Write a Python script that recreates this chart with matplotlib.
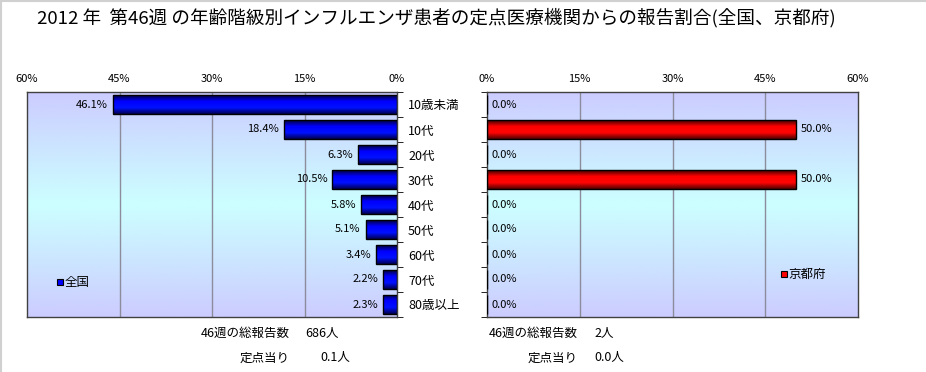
import numpy as np
import matplotlib
matplotlib.use("Agg")
import matplotlib.pyplot as plt
from matplotlib.colors import LinearSegmentedColormap
from matplotlib.lines import Line2D

plt.rcParams['font.family'] = ['Noto Sans CJK JP', 'DejaVu Sans']

title = "2012 年  第46週 の年齢階級別インフルエンザ患者の定点医療機関からの報告割合(全国、京都府)"
categories = ['10歳未満', '10代', '20代', '30代', '40代', '50代', '60代', '70代', '80歳以上']
national = [46.1, 18.4, 6.3, 10.5, 5.8, 5.1, 3.4, 2.2, 2.3]
kyoto = [0.0, 50.0, 0.0, 50.0, 0.0, 0.0, 0.0, 0.0, 0.0]
xticks = [0, 15, 30, 45, 60]
nat_total = "686人"
nat_per = "0.1人"
kyo_total = "2人"
kyo_per = "0.0人"
week_label = "46週の総報告数"
per_label = "定点当り"

W, H = 926, 372
fig = plt.figure(figsize=(W / 100, H / 100), dpi=100)
fig.patch.set_facecolor('white')

# thin light border at top and left
fig.add_artist(Line2D([0, 1], [1 - 1 / H, 1 - 1 / H], color='#d0d0d0', lw=1.5, transform=fig.transFigure))
fig.add_artist(Line2D([1 / W, 1 / W], [0, 1], color='#d0d0d0', lw=1.5, transform=fig.transFigure))

fig.text(37 / W, 1 - 18 / H, title, fontsize=13.4, ha='left', va='center')

bg_cmap = LinearSegmentedColormap.from_list('bg', ['#ccccff', '#ccffff', '#ccccff'])
blue_cmap = LinearSegmentedColormap.from_list('bb', ['#000040', '#0000ff', '#0010ff', '#000050'])
red_cmap = LinearSegmentedColormap.from_list('rb', ['#400000', '#ff0000', '#ff0505', '#500000'])

y = np.arange(len(categories))
bh = 0.76


def make_ax(rect, values, inverted, cmap, mcolor, legend_text, legend_pos):
    ax = fig.add_axes(rect)
    grad = np.linspace(0, 1, 256).reshape(-1, 1)
    ax.imshow(grad, extent=[0, 60, len(categories) - 0.5, -0.5], aspect='auto',
              cmap=bg_cmap, zorder=0, origin='upper')
    for xv in xticks[1:-1]:
        ax.axvline(xv, color='#8c8c9c', lw=1, zorder=1)
    bars = ax.barh(y, values, height=bh, color='none', edgecolor='black', lw=1, zorder=3)
    bgrad = np.linspace(0, 1, 64).reshape(-1, 1)
    for b, v in zip(bars, values):
        if v <= 0:
            continue
        x0, yy, w, h = b.get_x(), b.get_y(), b.get_width(), b.get_height()
        im = ax.imshow(bgrad, extent=[x0, x0 + w, yy + h, yy], aspect='auto', cmap=cmap,
                       zorder=2, origin='upper')
        im.set_clip_path(b)
    if inverted:
        ax.set_xlim(60, 0)
    else:
        ax.set_xlim(0, 60)
    ax.set_ylim(len(categories) - 0.5, -0.5)
    for yi, v in zip(y, values):
        if inverted:
            ax.text(v + 0.8, yi, f"{v:.1f}%", ha='right', va='center', fontsize=8, zorder=4)
        else:
            ax.text(v + 0.8, yi, f"{v:.1f}%", ha='left', va='center', fontsize=8, zorder=4)
    ax.xaxis.tick_top()
    ax.set_xticks(xticks)
    ax.set_xticklabels([f"{t}%" for t in xticks], fontsize=8)
    ax.tick_params(axis='x', length=0, pad=6)
    ax.set_yticks(y)
    ax.set_yticks(np.arange(-0.5, len(categories), 1), minor=True)
    for s in ax.spines.values():
        s.set_color('#404040')
        s.set_linewidth(1)
    ax.plot([legend_pos[0]], [legend_pos[1]], marker='s', markersize=5, markerfacecolor=mcolor,
            markeredgecolor='black', markeredgewidth=0.8, transform=ax.transAxes, zorder=5,
            clip_on=False)
    ax.text(legend_pos[0] + 0.012, legend_pos[1], legend_text, transform=ax.transAxes,
            fontsize=9, va='center', ha='left', zorder=5)
    return ax


axL = make_ax([27 / W, 55 / H, 370 / W, 225 / H], national, True, blue_cmap, '#0000ff',
              "全国", (0.09, 0.155))
axL.yaxis.tick_right()
axL.set_yticklabels(categories, fontsize=9)
axL.tick_params(axis='y', which='major', length=0, pad=8)
axL.tick_params(axis='y', which='minor', length=4, right=True, left=False)

axR = make_ax([487 / W, 55 / H, 371 / W, 225 / H], kyoto, False, red_cmap, '#ff0000',
              "京都府", (0.8, 0.19))
axR.set_yticklabels([])
axR.tick_params(axis='y', which='major', length=0)
axR.tick_params(axis='y', which='minor', length=4, left=True, right=False)

fs = 9
fig.text(290 / W, 1 - 333 / H, week_label, ha='right', va='center', fontsize=fs)
fig.text(305 / W, 1 - 333 / H, nat_total, ha='left', va='center', fontsize=fs)
fig.text(290 / W, 1 - 358 / H, per_label, ha='right', va='center', fontsize=fs)
fig.text(320 / W, 1 - 358 / H, nat_per, ha='left', va='center', fontsize=fs)
fig.text(578 / W, 1 - 333 / H, week_label, ha='right', va='center', fontsize=fs)
fig.text(594 / W, 1 - 333 / H, kyo_total, ha='left', va='center', fontsize=fs)
fig.text(578 / W, 1 - 358 / H, per_label, ha='right', va='center', fontsize=fs)
fig.text(594 / W, 1 - 358 / H, kyo_per, ha='left', va='center', fontsize=fs)

fig.savefig('out.png', dpi=100, facecolor='white')
